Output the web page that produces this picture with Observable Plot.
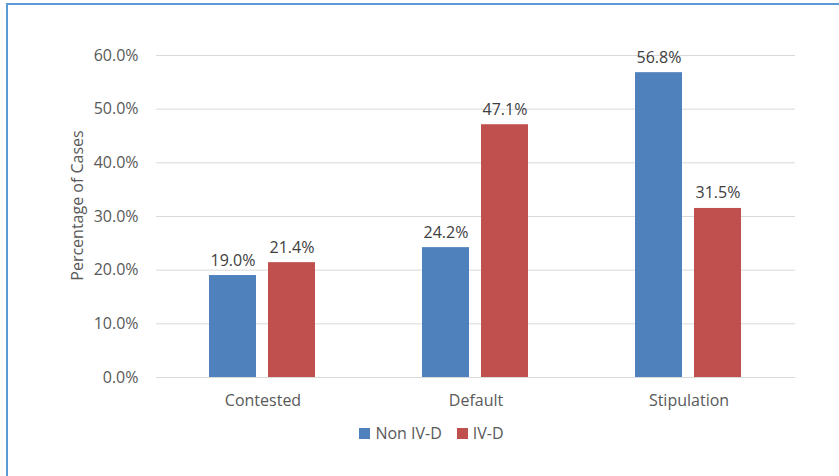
<!DOCTYPE html>
<html>
<head>
<meta charset="utf-8">
<script src="https://cdn.jsdelivr.net/npm/d3@7"></script>
<script src="https://cdn.jsdelivr.net/npm/@observablehq/plot@0.6"></script>
<style>
  html, body { margin: 0; padding: 0; background: #fff; }
  #page { position: relative; width: 839px; height: 476px; overflow: hidden; font-family: "Open Sans", sans-serif; }
  #frame { position: absolute; left: 6px; top: 3px; width: 900px; height: 600px; border-left: 2px solid #5B9BD5; border-top: 2px solid #5B9BD5; box-sizing: border-box; }
  #chart { position: absolute; left: 0; top: 0; }
  #legend { display: flex; justify-content: center; align-items: center; gap: 15px; font-size: 16px; line-height: 20px; color: #595959; margin-left: 24px; margin-top: 3px; }
  .sw { display: inline-flex; align-items: center; gap: 5px; }
  .sw i { display: inline-block; width: 11px; height: 11px; }
</style>
</head>
<body>
<div id="page">
  <div id="frame"></div>
  <div id="chart"></div>
</div>
<script>
const categories = ["Contested", "Default", "Stipulation"];
const series = ["Non IV-D", "IV-D"];
const nonIVD = [19.0, 24.2, 56.8];
const ivd = [21.4, 47.1, 31.5];
const colors = ["#4F81BD", "#C0504D"];
const yTicks = [0, 10, 20, 30, 40, 50, 60];
const yTitle = "Percentage of Cases";

const data = [];
categories.forEach((c, i) => {
  data.push({category: c, series: series[0], value: nonIVD[i]});
  data.push({category: c, series: series[1], value: ivd[i]});
});
const fmt = d => d.toFixed(1) + "%";

const chart = Plot.plot({
  width: 839,
  height: 420,
  marginLeft: 155,
  marginRight: 44,
  marginTop: 55,
  marginBottom: 43,
  style: {fontFamily: "'Open Sans', sans-serif", fontSize: "16px", color: "#595959", background: "transparent"},
  fx: {domain: categories, padding: 0, label: null, axis: "bottom", tickSize: 0, tickPadding: 17},
  x: {domain: series, axis: null, paddingInner: 0.2, paddingOuter: 0.878},
  y: {domain: [0, 60], ticks: yTicks, tickFormat: fmt, tickSize: 0, tickPadding: 18, label: null},
  color: {domain: series, range: colors},
  marks: [
    Plot.ruleY(yTicks, {stroke: "#D9D9D9", strokeWidth: 1}),
    Plot.barY(data, {fx: "category", x: "series", y: "value", fill: "series"}),
    Plot.text(data, {fx: "category", x: "series", y: "value", text: d => fmt(d.value), lineAnchor: "bottom", dy: -10, fill: "#404040", fontSize: 16}),
    Plot.text([yTitle], {frameAnchor: "left", textAnchor: "middle", text: d => d, rotate: -90, dx: -79, dy: -11, fill: "#595959", fontSize: 16, facet: "super"})
  ]
});
document.getElementById("chart").appendChild(chart);

const legend = document.createElement("div");
legend.id = "legend";
series.forEach((s, i) => {
  const item = document.createElement("span");
  item.className = "sw";
  const sw = document.createElement("i");
  sw.style.background = colors[i];
  item.appendChild(sw);
  item.appendChild(document.createTextNode(s));
  legend.appendChild(item);
});
document.getElementById("chart").appendChild(legend);
</script>
</body>
</html>
